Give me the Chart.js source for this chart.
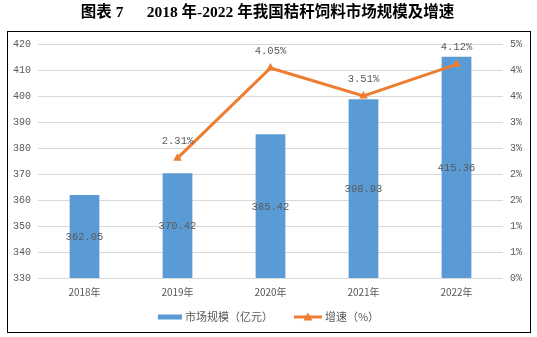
<!DOCTYPE html>
<html>
<head>
<meta charset="utf-8">
<script src="https://cdn.jsdelivr.net/npm/chart.js@4/dist/chart.umd.min.js"></script>
<style>
html,body{margin:0;padding:0;background:#fff;}
#wrap{width:537px;height:337px;position:relative;}
</style>
</head>
<body>
<div id="wrap"><canvas id="c" width="537" height="337"></canvas></div>
<script>
const categories = ['2018年', '2019年', '2020年', '2021年', '2022年'];
const marketSize = [362.05, 370.42, 385.42, 398.93, 415.36];
const growth = [null, 2.31, 4.05, 3.51, 4.12];
const marketLabels = ['362.05', '370.42', '385.42', '398.93', '415.36'];
const growthLabels = ['', '2.31%', '4.05%', '3.51%', '4.12%'];
const rightTickLabels = ['0%', '1%', '1%', '2%', '2%', '3%', '3%', '4%', '4%', '5%'];
const seriesNames = ['市场规模（亿元）', '增速（%）'];
const titleText = '图表 7      2018 年-2022 年我国秸秆饲料市场规模及增速';

const BLUE = '#5B9BD5', ORANGE = '#ED7D31', TXT = '#595959', GRID = '#D9D9D9';

const framePlugin = {
  id: 'frame',
  beforeDraw(chart) {
    const ctx = chart.ctx;
    ctx.save();
    ctx.fillStyle = '#fff';
    ctx.fillRect(0, 0, chart.width, chart.height);
    ctx.strokeStyle = '#000';
    ctx.lineWidth = 1;
    ctx.strokeRect(7.5, 31.5, 523, 301);
    ctx.restore();
  }
};

const labelPlugin = {
  id: 'valueLabels',
  afterDatasetsDraw(chart) {
    const ctx = chart.ctx;
    ctx.save();
    ctx.fillStyle = TXT;
    ctx.font = '10.5px "Liberation Mono", monospace';
    ctx.textAlign = 'center';
    ctx.textBaseline = 'middle';
    const bottom = chart.scales.y.bottom;
    const barMeta = chart.getDatasetMeta(0);
    barMeta.data.forEach((el, i) => {
      ctx.fillText(marketLabels[i], el.x, (el.y + bottom) / 2 + 1);
    });
    const lineMeta = chart.getDatasetMeta(1);
    lineMeta.data.forEach((el, i) => {
      if (growth[i] == null) return;
      ctx.fillText(growthLabels[i], el.x, el.y - 17);
    });
    ctx.restore();
  }
};

const legendPlugin = {
  id: 'customLegend',
  afterDraw(chart) {
    const ctx = chart.ctx;
    const names = chart.data.datasets.map(d => d.label);
    ctx.save();
    ctx.font = '11px "Noto Sans CJK SC", sans-serif';
    ctx.textBaseline = 'middle';
    ctx.textAlign = 'left';
    ctx.fillStyle = TXT;
    const w1 = ctx.measureText(names[0]).width;
    const w2 = ctx.measureText(names[1]).width;
    const total = 24 + 3 + w1 + 21 + 28 + 3 + w2;
    let x = chart.width / 2 - total / 2;
    const y = 317;
    ctx.fillStyle = BLUE;
    ctx.fillRect(x, y - 2.5, 24, 5);
    x += 27;
    ctx.fillStyle = TXT;
    ctx.fillText(names[0], x, y);
    x += w1 + 21;
    ctx.strokeStyle = ORANGE;
    ctx.lineWidth = 3;
    ctx.beginPath(); ctx.moveTo(x, y); ctx.lineTo(x + 28, y); ctx.stroke();
    ctx.fillStyle = ORANGE;
    ctx.beginPath(); ctx.moveTo(x + 14, y - 4.5); ctx.lineTo(x + 18.5, y + 3.5); ctx.lineTo(x + 9.5, y + 3.5); ctx.closePath(); ctx.fill();
    x += 31;
    ctx.fillStyle = TXT;
    ctx.fillText(names[1], x, y);
    ctx.restore();
  }
};

new Chart(document.getElementById('c'), {
  data: {
    labels: categories,
    datasets: [
      {
        type: 'bar',
        label: seriesNames[0],
        data: marketSize,
        backgroundColor: BLUE,
        yAxisID: 'y',
        categoryPercentage: 1,
        barPercentage: 0.32,
        order: 2
      },
      {
        type: 'line',
        label: seriesNames[1],
        data: growth,
        borderColor: ORANGE,
        backgroundColor: ORANGE,
        borderWidth: 3,
        pointStyle: 'triangle',
        pointRadius: 5,
        pointBorderWidth: 0,
        pointBackgroundColor: ORANGE,
        tension: 0,
        yAxisID: 'y1',
        order: 1
      }
    ]
  },
  options: {
    responsive: false,
    animation: false,
    events: [],
    layout: { padding: { left: 6, right: 8, top: 0, bottom: 31 } },
    plugins: {
      title: {
        display: true,
        text: titleText,
        color: '#000',
        font: { family: '"Liberation Serif", "Noto Sans CJK SC", serif', size: 15.5, weight: 'bold' },
        padding: { top: 4, bottom: 22 }
      },
      legend: { display: false },
      tooltip: { enabled: false }
    },
    scales: {
      x: {
        grid: { display: false, drawTicks: false },
        border: { display: true, color: GRID },
        ticks: { color: TXT, font: { family: '"Noto Sans CJK SC", sans-serif', size: 10 }, padding: 8 }
      },
      y: {
        position: 'left',
        min: 330, max: 420,
        ticks: { stepSize: 10, color: TXT, font: { family: '"Liberation Mono", monospace', size: 10 }, padding: 7 },
        grid: { color: GRID, drawTicks: false },
        border: { display: false }
      },
      y1: {
        position: 'right',
        min: 0, max: 4.5,
        ticks: {
          stepSize: 0.5, color: TXT, font: { family: '"Liberation Mono", monospace', size: 10 }, padding: 7,
          callback: (v, i) => rightTickLabels[i]
        },
        grid: { display: false, drawTicks: false },
        border: { display: false }
      }
    }
  },
  plugins: [framePlugin, labelPlugin, legendPlugin]
});
</script>
</body>
</html>
